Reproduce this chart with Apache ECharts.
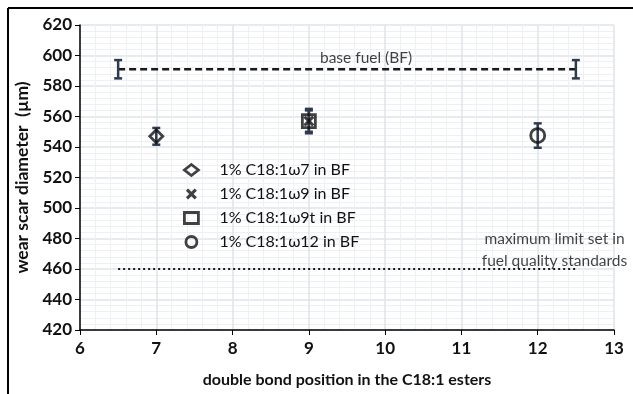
<!DOCTYPE html>
<html><head><meta charset="utf-8">
<script src="https://cdn.jsdelivr.net/npm/echarts@6/dist/echarts.min.js"></script>
<style>html,body{margin:0;padding:0;background:#fff}#c{width:633px;height:394px}</style>
</head><body><div id="c"></div>
<script>
// ---- data ----
const seriesNames = ['1% C18:1ω7 in BF', '1% C18:1ω9 in BF', '1% C18:1ω9t in BF', '1% C18:1ω12 in BF'];
const positions = [7, 9, 9, 12];
const means = [547, 557, 557, 547.5];
const errors = [5.5, 7, 8, 8];
const baseFuelX = [6.5, 12.5];
const baseFuelValue = 591;
const baseFuelError = 6;
const limitX = [6.5, 12.5];
const limitValue = 460;
const xTicks = [6, 7, 8, 9, 10, 11, 12, 13];
const yTicks = [420, 440, 460, 480, 500, 520, 540, 560, 580, 600, 620];

const FONT = 'Lato, "Open Sans", sans-serif';
const symbols = ['diamond', 'path://M0,2L2,0L5,3L8,0L10,2L7,5L10,8L8,10L5,7L2,10L0,8L3,5Z', 'rect', 'circle'];
const sizes = [13, 11, 13, 14];
const barColor = '#2e3b4e';

function errRender(params, api) {
  const x = api.value(0), y = api.value(1), e = api.value(2);
  const top = api.coord([x, y + e]);
  const bot = api.coord([x, y - e]);
  const w = 4;
  const st = { stroke: barColor, lineWidth: 2.5 };
  return { type: 'group', children: [
    { type: 'line', shape: { x1: top[0], y1: top[1], x2: bot[0], y2: bot[1] }, style: st },
    { type: 'line', shape: { x1: top[0]-w, y1: top[1], x2: top[0]+w, y2: top[1] }, style: st },
    { type: 'line', shape: { x1: bot[0]-w, y1: bot[1], x2: bot[0]+w, y2: bot[1] }, style: st }
  ]};
}

function markerStyle(i) {
  return i === 1 ? { color: '#111' } : { color: 'rgba(255,255,255,0)', borderColor: '#111', borderWidth: 2.8 };
}

const series = [];
series.push({
  type: 'custom', name: 'err', renderItem: errRender, silent: true, z: 3,
  data: positions.map((p, i) => [p, means[i], errors[i]])
});
series.push({
  type: 'custom', name: 'bferr', renderItem: errRender, silent: true, z: 3,
  data: baseFuelX.map(x => [x, baseFuelValue, baseFuelError])
});
series.push({
  type: 'line', name: 'base fuel (BF)', symbol: 'none', silent: true, z: 2,
  lineStyle: { color: '#1a1a1a', width: 2.5, type: [7, 4] },
  data: baseFuelX.map(x => [x, baseFuelValue])
});
series.push({
  type: 'line', name: 'limit', symbol: 'none', silent: true, z: 2,
  lineStyle: { color: '#1a1a1a', width: 2, type: [2, 3] },
  data: limitX.map(x => [x, limitValue])
});
series.push({
  type: 'scatter', name: 'bflabel', symbolSize: 0, silent: true,
  data: [[9.75, baseFuelValue]],
  label: { show: true, position: 'top', distance: 3, formatter: 'base fuel (BF)',
    fontFamily: FONT, fontSize: 15.5, color: '#111' }
});
series.push({
  type: 'scatter', name: 'limlabel', symbolSize: 0, silent: true,
  data: [[12.22, limitValue]],
  label: { show: true, position: 'top', distance: 1, offset: [0, 4], formatter: 'maximum limit set in\nfuel quality standards',
    fontFamily: FONT, fontSize: 15.5, lineHeight: 22, color: '#111' }
});
seriesNames.forEach((n, i) => {
  series.push({
    type: 'scatter', name: n, symbol: symbols[i], symbolSize: sizes[i], z: 4,
    itemStyle: markerStyle(i),
    data: [[positions[i], means[i]]]
  });
});

const chart = echarts.init(document.getElementById('c'), null, { renderer: 'canvas' });
chart.setOption({
  animation: false,
  backgroundColor: '#fff',
  grid: { left: 80, right: 19, top: 25, bottom: 64 },
  legend: {
    data: seriesNames.map((n, i) => ({ name: n, itemStyle: markerStyle(i) })),
    orient: 'vertical', left: 178, top: 157,
    itemWidth: 14, itemHeight: 11, itemGap: 8,
    textStyle: { fontFamily: FONT, fontSize: 16, color: '#111', padding: [0, 0, 0, 16] }
  },
  graphic: [
    { type: 'line', shape: { x1: 8, y1: 8, x2: 633, y2: 8 }, style: { stroke: '#000', lineWidth: 2 } },
    { type: 'line', shape: { x1: 8, y1: 8, x2: 8, y2: 394 }, style: { stroke: '#000', lineWidth: 2 } }
  ],
  xAxis: {
    type: 'value', min: xTicks[0], max: xTicks[xTicks.length - 1], interval: 1,
    name: 'double bond position in the C18:1 esters', nameLocation: 'middle', nameGap: 42,
    nameTextStyle: { fontFamily: FONT, fontWeight: 'bold', fontSize: 16, color: '#111' },
    axisLine: { lineStyle: { color: '#000', width: 1.5 } },
    axisTick: { show: true, length: 5, lineStyle: { color: '#000' } },
    axisLabel: { fontFamily: FONT, fontWeight: 'bold', fontSize: 17, color: '#111', margin: 10 },
    splitLine: { show: true, lineStyle: { color: '#dfe3ea', width: 1.5 } },
    minorSplitLine: { show: true, lineStyle: { color: '#edf0f4', width: 1 } },
    minorTick: { show: false, splitNumber: 5 }
  },
  yAxis: {
    type: 'value', min: yTicks[0], max: yTicks[yTicks.length - 1], interval: 20,
    name: 'wear scar diameter  (µm)', nameLocation: 'middle', nameGap: 44,
    nameTextStyle: { fontFamily: FONT, fontWeight: 'bold', fontSize: 17.5, color: '#111' },
    axisLine: { show: true, lineStyle: { color: '#000', width: 1.5 } },
    axisTick: { show: true, length: 5, lineStyle: { color: '#000' } },
    axisLabel: { fontFamily: FONT, fontWeight: 'bold', fontSize: 17, color: '#111', margin: 8 },
    splitLine: { show: true, lineStyle: { color: '#dfe3ea', width: 1.5 } },
    minorSplitLine: { show: true, lineStyle: { color: '#edf0f4', width: 1 } },
    minorTick: { show: false, splitNumber: 5 }
  },
  series: series
});
</script></body></html>
